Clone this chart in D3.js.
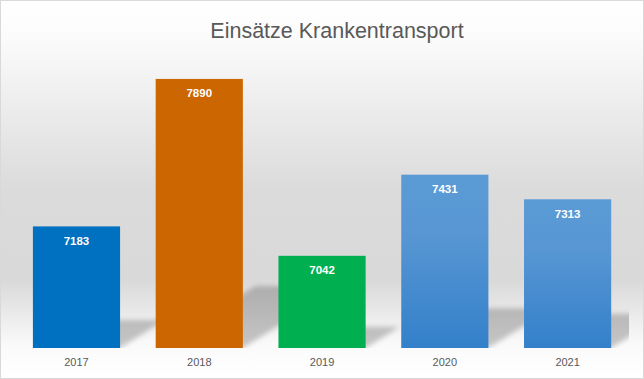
<!DOCTYPE html>
<html>
<head>
<meta charset="utf-8">
<script src="https://cdn.jsdelivr.net/npm/d3@7"></script>
<style>
  html, body { margin: 0; padding: 0; background: #ffffff; }
  svg { display: block; }
</style>
</head>
<body>
<svg id="chart" width="644" height="379"></svg>
<script>
// ---- data ----
const title = "Einsätze Krankentransport";
const years = ["2017", "2018", "2019", "2020", "2021"];
const values = [7183, 7890, 7042, 7431, 7313];
const yDomain = [6600, 8000];

// ---- styles ----
const barFills = ["#0070c0", "#cc6600", "#00b050", "url(#blueGrad)", "url(#blueGrad)"];

const W = 644, H = 379;
const svg = d3.select("#chart");
const defs = svg.append("defs");

// chart-area background gradient
const bg = defs.append("linearGradient").attr("id", "bgGrad")
  .attr("x1", 0).attr("y1", 0).attr("x2", 0).attr("y2", 1);
[[0, "#ffffff"], [0.1, "#fbfbfb"], [0.5, "#dbdbdb"], [0.74, "#d9d9d9"],
 [0.82, "#e8e8e8"], [0.91, "#fafafa"], [1, "#ffffff"]]
  .forEach(([o, c]) => bg.append("stop").attr("offset", o).attr("stop-color", c));

// gradient for 2020/2021 bars
const bl = defs.append("linearGradient").attr("id", "blueGrad")
  .attr("x1", 0).attr("y1", 0).attr("x2", 0).attr("y2", 1);
[[0, "#5b9bd5"], [0.35, "#5796d3"], [1, "#3380ca"]]
  .forEach(([o, c]) => bl.append("stop").attr("offset", o).attr("stop-color", c));

defs.append("filter").attr("id", "blur")
  .attr("x", "-30%").attr("y", "-30%").attr("width", "160%").attr("height", "160%")
  .append("feGaussianBlur").attr("stdDeviation", 2.5);

svg.append("rect").attr("x", 0.5).attr("y", 0.5).attr("width", W - 1).attr("height", H - 1)
  .attr("fill", "url(#bgGrad)").attr("stroke", "#d9d9d9").attr("stroke-width", 1);

// title
svg.append("text")
  .attr("x", 337).attr("y", 38)
  .attr("text-anchor", "middle")
  .attr("font-family", "'Liberation Sans', Arial, sans-serif")
  .attr("font-size", "21.5px")
  .attr("fill", "#595959")
  .text(title);

// scales
const x = d3.scaleBand().domain(years).range([15.1, 629])
  .paddingInner(0.29).paddingOuter(0.145);
const y = d3.scaleLinear().domain(yDomain).range([348, 56]);

const base = y(yDomain[0]);

defs.append("clipPath").attr("id", "plotClip")
  .append("rect").attr("x", 15).attr("y", 40).attr("width", 614).attr("height", base - 40);

// perspective shadows
const sh = svg.append("g").attr("clip-path", "url(#plotClip)");
sh.selectAll("polygon").data(values).join("polygon")
  .attr("points", (v, i) => {
    const x0 = x(years[i]), x1 = x0 + x.bandwidth();
    const h = base - y(v);
    const dx = 0.37 * h, dy = 0.23 * h;
    return [[x0, base], [x1, base], [x1 + dx, base - dy], [x0 + dx, base - dy]]
      .map(p => p.join(",")).join(" ");
  })
  .attr("fill", "#000")
  .attr("fill-opacity", 0.21)
  .attr("filter", "url(#blur)");

// bars
svg.append("g").selectAll("rect").data(values).join("rect")
  .attr("x", (v, i) => x(years[i]))
  .attr("y", v => y(v))
  .attr("width", x.bandwidth())
  .attr("height", v => base - y(v))
  .attr("fill", (v, i) => barFills[i]);

// value labels
svg.append("g").selectAll("text").data(values).join("text")
  .attr("x", (v, i) => x(years[i]) + x.bandwidth() / 2)
  .attr("y", v => y(v) + 18.5)
  .attr("text-anchor", "middle")
  .attr("font-family", "'Liberation Sans', Arial, sans-serif")
  .attr("font-weight", "bold")
  .attr("font-size", "11.5px")
  .attr("fill", "#ffffff")
  .text(v => v);

// x axis labels
const ax = svg.append("g").attr("transform", `translate(0,${base})`)
  .call(d3.axisBottom(x).tickSize(0).tickPadding(10));
ax.select(".domain").remove();
ax.selectAll("text")
  .attr("font-family", "'Liberation Sans', Arial, sans-serif")
  .attr("font-size", "11px")
  .attr("fill", "#595959");
</script>
</body>
</html>
